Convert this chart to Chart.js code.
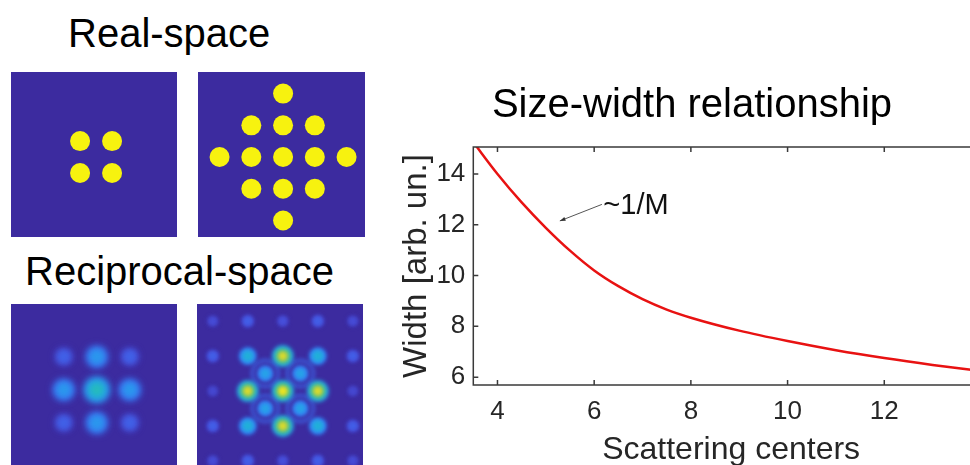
<!DOCTYPE html>
<html>
<head>
<meta charset="utf-8">
<script src="https://cdn.jsdelivr.net/npm/chart.js@4.4.0/dist/chart.umd.min.js"></script>
<style>
  html, body { margin: 0; padding: 0; }
  body { width: 970px; height: 465px; overflow: hidden; position: relative; background: #fff;
         font-family: 'Liberation Sans', Arial, sans-serif; }
  canvas, .label { position: absolute; }
  .label { color: #000; white-space: nowrap; }
</style>
</head>
<body>
<div class="label" style="left:68px; top:13px; font-size:40px; line-height:40px;">Real-space</div>
<div class="label" style="left:25px; top:251px; font-size:40px; line-height:40px;">Reciprocal-space</div>
<canvas id="real4" width="166" height="165" style="left:11px; top:72px;"></canvas>
<canvas id="real13" width="167" height="165" style="left:198px; top:72px;"></canvas>
<canvas id="recip4" width="166" height="166" style="left:11px; top:304px;"></canvas>
<canvas id="recip13" width="166" height="166" style="left:197px; top:304px;"></canvas>
<canvas id="sizeWidth" width="594" height="400" style="left:395px; top:70px;"></canvas>
<script>
// size-width curve
const centers = [3.5, 4, 4.5, 5, 5.5, 6, 6.5, 7, 7.5, 8, 9, 10, 11, 12, 13, 14];
const widths = [15.25, 14.0, 12.88, 11.88, 10.98, 10.2, 9.58, 9.07, 8.66, 8.34, 7.83, 7.42, 7.06, 6.75, 6.48, 6.24];
const xTicks = [4, 6, 8, 10, 12];
const yTicks = [6, 8, 10, 12, 14];

// real-space scatterers
const real4X = [-0.5, 0.5, -0.5, 0.5];
const real4Y = [0.5, 0.5, -0.5, -0.5];
const real13X = [0, -1, 0, 1, -2, -1, 0, 1, 2, -1, 0, 1, 0];
const real13Y = [2, 1, 1, 1, 0, 0, 0, 0, 0, -1, -1, -1, -2];

// reciprocal-space spots (intensity 0..1)
const recip4X = [-1, 0, 1, -1, 0, 1, -1, 0, 1];
const recip4Y = [1, 1, 1, 0, 0, 0, -1, -1, -1];
const recip4I = [0.32, 0.56, 0.32, 0.56, 0.76, 0.56, 0.32, 0.56, 0.32];

const recip13X = [0, -1, 1, 0, 0, -1, 1, -1, 1, -0.5, 0.5, -0.5, 0.5,
                  -2, -1, 0, 1, 2, -2, -1, 0, 1, 2, -2, -2, -2, 2, 2, 2];
const recip13Y = [0, 0, 0, 1, -1, 1, 1, -1, -1, 0.5, 0.5, -0.5, -0.5,
                  2, 2, 2, 2, 2, -2, -2, -2, -2, -2, 1, 0, -1, 1, 0, -1];
const recip13I = [1.0, 0.97, 0.97, 0.97, 0.97, 0.68, 0.68, 0.68, 0.68, 0.6, 0.6, 0.6, 0.6,
                  0.2, 0.3, 0.22, 0.3, 0.2, 0.2, 0.3, 0.22, 0.3, 0.2, 0.3, 0.18, 0.3, 0.3, 0.18, 0.3];
const ringX = [-0.5, 0.5, -0.5, 0.5];
const ringY = [0.5, 0.5, -0.5, -0.5];

// annotation
const noteText = '~1/M';
const notePos = [6.19, 12.72];
const arrowFrom = [6.16, 12.80];
const arrowTo = [5.29, 12.15];

const fontFamily = "'Liberation Sans', Arial, sans-serif";
Chart.defaults.font.family = fontFamily;

const panelBg = '#3c2b9f';
const dotYellow = '#f7f20f';

const parulaStops = [
  [0.0, [60, 43, 159]], [0.2, [72, 80, 222]], [0.4, [55, 122, 245]], [0.55, [40, 160, 236]],
  [0.7, [30, 184, 204]], [0.8, [60, 194, 144]], [0.9, [190, 200, 60]], [1.0, [250, 240, 25]]
];
function parula(t) {
  t = Math.max(0, Math.min(1, t));
  for (let i = 1; i < parulaStops.length; i++) {
    const [t1, c1] = parulaStops[i];
    const [t0, c0] = parulaStops[i - 1];
    if (t <= t1) {
      const f = (t - t0) / (t1 - t0);
      const c = c0.map((v, k) => Math.round(v + (c1[k] - v) * f));
      return `rgb(${c[0]},${c[1]},${c[2]})`;
    }
  }
  return 'rgb(250,240,25)';
}

const fillBg = {
  id: 'fillBg',
  beforeDraw(chart) {
    const ctx = chart.ctx;
    ctx.save();
    ctx.fillStyle = panelBg;
    ctx.fillRect(0, 0, chart.width, chart.height);
    ctx.restore();
  }
};

function blur(px) {
  return {
    id: 'blur',
    beforeDatasetsDraw(chart) { chart.ctx.save(); chart.ctx.filter = `blur(${px}px)`; },
    afterDatasetsDraw(chart) { chart.ctx.restore(); }
  };
}

function points(xs, ys) {
  return xs.map((x, i) => ({ x: x, y: ys[i] }));
}

function panel(id, datasets, xr, yr, plugins) {
  return new Chart(document.getElementById(id), {
    type: 'scatter',
    data: { datasets: datasets },
    options: {
      responsive: false,
      animation: false,
      events: [],
      layout: { padding: 0, autoPadding: false },
      plugins: { legend: { display: false }, tooltip: { enabled: false } },
      scales: {
        x: { display: false, min: xr[0], max: xr[1] },
        y: { display: false, min: yr[0], max: yr[1] }
      }
    },
    plugins: [fillBg].concat(plugins || [])
  });
}

function spotLayers(xs, ys, vals, radius) {
  const layers = [[1.0, 0.6], [0.75, 0.8], [0.5, 0.92], [0.28, 1.0]];
  return layers.map((l, k) => ({
    data: points(xs, ys),
    order: layers.length - k,
    pointRadius: vals.map(v => radius(v) * l[0]),
    pointBackgroundColor: vals.map(v => parula(v * l[1])),
    pointBorderWidth: 0
  }));
}

// real-space panels
panel('real4', [{
  data: points(real4X, real4Y), pointRadius: 10, pointBackgroundColor: dotYellow, pointBorderWidth: 0
}], [-2.66, 2.53], [-2.5, 2.66]);

panel('real13', [{
  data: points(real13X, real13Y), pointRadius: 10, pointBackgroundColor: dotYellow, pointBorderWidth: 0
}], [-2.68, 2.58], [-2.52, 2.68]);

// reciprocal-space panels
panel('recip4', spotLayers(recip4X, recip4Y, recip4I, v => 5 + 11 * v),
  [-2.6, 2.43], [-2.43, 2.6], [blur(3.5)]);

panel('recip13', [{
  data: points(ringX, ringY), order: 10, pointRadius: 13,
  pointBackgroundColor: 'rgba(0,0,0,0)', pointBorderColor: parula(0.33), pointBorderWidth: 2.5
}].concat(spotLayers(recip13X, recip13Y, recip13I, v => 4 + 7 * v)),
  [-2.45, 2.29], [-2.26, 2.49], [blur(2)]);

// size-width chart
const boxTicks = {
  id: 'boxTicks',
  afterDatasetsDraw(chart) {
    const { ctx, chartArea: a, scales: { x, y } } = chart;
    ctx.save();
    ctx.strokeStyle = '#3a3a3a';
    ctx.lineWidth = 1.5;
    ctx.strokeRect(a.left, a.top, a.right - a.left, a.bottom - a.top);
    ctx.beginPath();
    xTicks.forEach(v => {
      const px = x.getPixelForValue(v);
      ctx.moveTo(px, a.bottom); ctx.lineTo(px, a.bottom - 5);
      ctx.moveTo(px, a.top); ctx.lineTo(px, a.top + 5);
    });
    yTicks.forEach(v => {
      const py = y.getPixelForValue(v);
      ctx.moveTo(a.left, py); ctx.lineTo(a.left + 5, py);
      ctx.moveTo(a.right, py); ctx.lineTo(a.right - 5, py);
    });
    ctx.stroke();
    ctx.restore();
  }
};

const note = {
  id: 'note',
  afterDatasetsDraw(chart) {
    const { ctx, scales: { x, y } } = chart;
    const x0 = x.getPixelForValue(arrowFrom[0]), y0 = y.getPixelForValue(arrowFrom[1]);
    const x1 = x.getPixelForValue(arrowTo[0]), y1 = y.getPixelForValue(arrowTo[1]);
    const ang = Math.atan2(y1 - y0, x1 - x0);
    ctx.save();
    ctx.strokeStyle = '#555';
    ctx.fillStyle = '#333';
    ctx.lineWidth = 1;
    ctx.beginPath();
    ctx.moveTo(x0, y0);
    ctx.lineTo(x1, y1);
    ctx.stroke();
    ctx.beginPath();
    ctx.moveTo(x1, y1);
    ctx.lineTo(x1 - 6 * Math.cos(ang - 0.35), y1 - 6 * Math.sin(ang - 0.35));
    ctx.lineTo(x1 - 6 * Math.cos(ang + 0.35), y1 - 6 * Math.sin(ang + 0.35));
    ctx.closePath();
    ctx.fill();
    ctx.fillStyle = '#111';
    ctx.font = '29px ' + fontFamily;
    ctx.textBaseline = 'middle';
    ctx.fillText(noteText, x.getPixelForValue(notePos[0]), y.getPixelForValue(notePos[1]));
    ctx.restore();
  }
};

new Chart(document.getElementById('sizeWidth'), {
  type: 'line',
  data: {
    datasets: [{
      data: points(centers, widths),
      borderColor: '#e81212',
      borderWidth: 2.5,
      pointRadius: 0,
      cubicInterpolationMode: 'monotone',
      fill: false
    }]
  },
  options: {
    responsive: false,
    animation: false,
    events: [],
    layout: { padding: 0, autoPadding: false },
    plugins: {
      legend: { display: false },
      tooltip: { enabled: false },
      title: {
        display: true,
        text: 'Size-width relationship',
        color: '#000',
        font: { size: 40, weight: 'normal' },
        padding: { top: 11.5, bottom: 17.5 }
      }
    },
    scales: {
      x: {
        type: 'linear',
        min: 3.5,
        max: 14.166,
        afterBuildTicks: s => { s.ticks = xTicks.map(v => ({ value: v })); },
        afterFit: s => { s.height = 85; },
        grid: { display: false, drawTicks: false },
        border: { display: false },
        ticks: { color: '#262626', font: { size: 26 }, padding: 11, maxRotation: 0 },
        title: { display: true, text: 'Scattering centers', color: '#262626',
                 font: { size: 32 }, padding: { top: 0, bottom: 1 } }
      },
      y: {
        min: 5.69,
        max: 15.06,
        afterBuildTicks: s => { s.ticks = yTicks.map(v => ({ value: v })); },
        afterFit: s => { s.width = 78.3; },
        grid: { display: false, drawTicks: false },
        border: { display: false },
        ticks: { color: '#262626', font: { size: 26 }, padding: 8 },
        title: { display: true, text: 'Width [arb. un.]', color: '#262626',
                 font: { size: 33 }, padding: { top: 2, bottom: 0 } }
      }
    }
  },
  plugins: [boxTicks, note]
});
</script>
</body>
</html>
